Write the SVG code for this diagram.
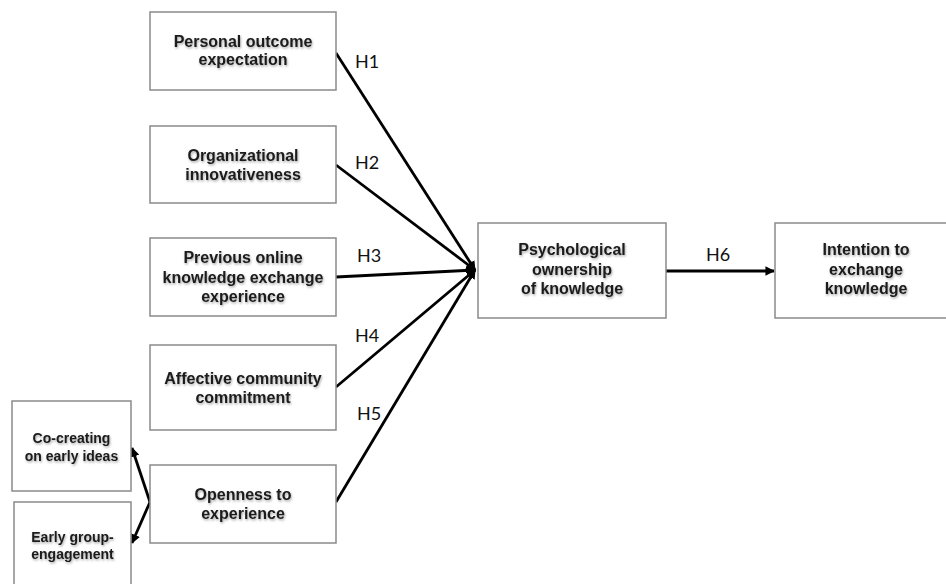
<svg xmlns="http://www.w3.org/2000/svg" width="946" height="584" viewBox="0 0 946 584">
<style>
.box{fill:#fff;stroke:#8a8a8a;stroke-width:1.5}
.t{font-family:"Liberation Sans",Arial,sans-serif;font-weight:bold;font-size:16px;fill:#1a1a1a;text-anchor:middle}
.s{font-size:14px}
.h{font-family:Lato,"Open Sans",sans-serif;font-size:18px;fill:#111}
.c{stroke:#000;stroke-width:2.8;fill:none;marker-end:url(#ah)}
</style>
<defs>
<marker id="ah" viewBox="0 0 10 10" refX="9" refY="5" markerWidth="3.4" markerHeight="3.4" orient="auto" markerUnits="strokeWidth">
<path d="M0,0 L10,5 L0,10 z" fill="#000"/>
</marker>
<filter id="sh" x="-10%" y="-20%" width="120%" height="150%">
<feDropShadow dx="0.8" dy="1.5" stdDeviation="1.2" flood-color="#000" flood-opacity="0.35"/>
</filter>
</defs>
<rect width="946" height="584" fill="#fff"/>
<g id="connectors">
<line class="c" x1="336" y1="53" x2="475" y2="270"/>
<line class="c" x1="336" y1="165" x2="475" y2="270"/>
<line class="c" x1="336" y1="277" x2="475" y2="270"/>
<line class="c" x1="336" y1="387" x2="475" y2="270"/>
<line class="c" x1="336" y1="502" x2="475" y2="270"/>
<line class="c" x1="666" y1="271" x2="774" y2="271"/>
<line class="c" x1="150" y1="502" x2="132" y2="448"/>
<line class="c" x1="150" y1="502" x2="132" y2="543"/>
</g>
<g id="labels" class="h">
<text x="355" y="68">H1</text>
<text x="355" y="169">H2</text>
<text x="357" y="262">H3</text>
<text x="355" y="342">H4</text>
<text x="357" y="420">H5</text>
<text x="706" y="261">H6</text>
</g>
<g id="n1"><rect class="box" x="150" y="12" width="186" height="78"/>
<g class="t" filter="url(#sh)"><text x="243" y="47">Personal outcome</text><text x="243" y="65">expectation</text></g></g>
<g id="n2"><rect class="box" x="150" y="126" width="186" height="77"/>
<g class="t" filter="url(#sh)"><text x="243" y="161">Organizational</text><text x="243" y="180">innovativeness</text></g></g>
<g id="n3"><rect class="box" x="150" y="238" width="186" height="78"/>
<g class="t" filter="url(#sh)"><text x="243" y="263">Previous online</text><text x="243" y="283">knowledge exchange</text><text x="243" y="302">experience</text></g></g>
<g id="n4"><rect class="box" x="150" y="345" width="186" height="85"/>
<g class="t" filter="url(#sh)"><text x="243" y="384">Affective community</text><text x="243" y="403">commitment</text></g></g>
<g id="n5"><rect class="box" x="150" y="465" width="186" height="78"/>
<g class="t" filter="url(#sh)"><text x="243" y="500">Openness to</text><text x="243" y="519">experience</text></g></g>
<g id="n6"><rect class="box" x="12" y="401" width="119" height="90"/>
<g class="t s" filter="url(#sh)"><text x="71.5" y="443">Co-creating</text><text x="71.5" y="461">on early ideas</text></g></g>
<g id="n7"><rect class="box" x="14" y="502" width="117" height="90"/>
<g class="t s" filter="url(#sh)"><text x="72.5" y="542">Early group-</text><text x="72.5" y="559">engagement</text></g></g>
<g id="n8"><rect class="box" x="478" y="223" width="188" height="95"/>
<g class="t" filter="url(#sh)"><text x="572" y="255">Psychological</text><text x="572" y="275">ownership</text><text x="572" y="294">of knowledge</text></g></g>
<g id="n9"><rect class="box" x="775" y="223" width="180" height="95"/>
<g class="t" filter="url(#sh)"><text x="866" y="255">Intention to</text><text x="866" y="275">exchange</text><text x="866" y="294">knowledge</text></g></g>
</svg>
